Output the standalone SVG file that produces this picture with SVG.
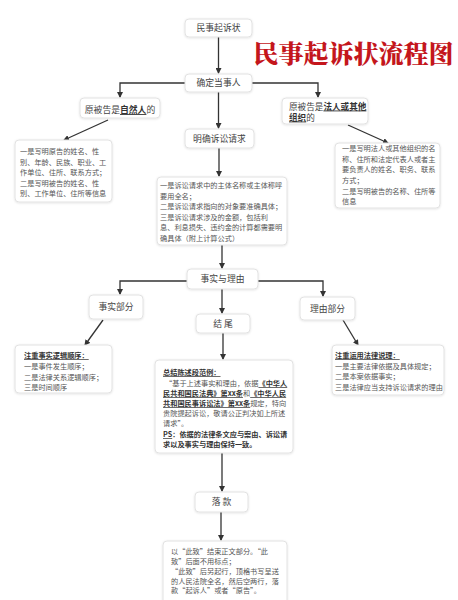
<svg xmlns="http://www.w3.org/2000/svg" width="458" height="600" viewBox="0 0 458 600">
<defs>
<filter id="sh" x="-10%" y="-10%" width="120%" height="130%">
<feDropShadow dx="0" dy="0.6" stdDeviation="0.8" flood-color="#000" flood-opacity="0.12"/>
</filter>
<marker id="ar" markerWidth="6" markerHeight="6" refX="5" refY="3" orient="auto" markerUnits="userSpaceOnUse">
<path d="M0,0 L6,3 L0,6 Z" fill="#333"/>
</marker>
</defs>
<style>
.box{fill:#fff;stroke:#e2e2e2;stroke-width:1;filter:url(#sh)}
.lbl{font-family:"Noto Sans CJK SC","Noto Sans",sans-serif;font-size:8.8px;fill:#444;text-anchor:middle}
.lbl2{font-family:"Noto Sans CJK SC","Noto Sans",sans-serif;font-size:8.6px;fill:#444}
.t{font-family:"Noto Sans CJK SC","Noto Sans",sans-serif;font-size:7.2px;fill:#555}
.b{font-weight:bold;fill:#333;text-decoration:underline}
.bo{font-weight:bold;fill:#333}
.c{fill:none;stroke:#333;stroke-width:1.3;marker-end:url(#ar)}
</style>
<rect width="458" height="600" fill="#fff"/>
<text x="353.5" y="63" font-family="'Noto Serif CJK SC','Noto Sans CJK SC',serif" font-size="25" font-weight="900" fill="#c4161c" text-anchor="middle">民事起诉状流程图</text>

<g id="connectors">
<path class="c" d="M218.5,37 V73"/>
<path class="c" d="M185,83 H120 V97"/>
<path class="c" d="M252,83 H318 V97"/>
<path class="c" d="M218.5,92 V128"/>
<path class="c" d="M108,120 L64,140"/>
<path class="c" d="M348,125 L388,143"/>
<path class="c" d="M219,148 V176"/>
<path class="c" d="M222,245 V268"/>
<path class="c" d="M187,281 H120 V294"/>
<path class="c" d="M258,281 H323 V296"/>
<path class="c" d="M222,289 V313"/>
<path class="c" d="M103,320 L85,345"/>
<path class="c" d="M343,320 L358,345"/>
<path class="c" d="M223,333 V359"/>
<path class="c" d="M222,453 V491"/>
<path class="c" d="M221,512 V540"/>
</g>

<g id="n1"><rect class="box" x="185" y="19" width="67" height="18" rx="4"/><text class="lbl" x="218.5" y="31">民事起诉状</text></g>
<g id="n2"><rect class="box" x="185" y="74" width="67" height="18" rx="4"/><text class="lbl" x="218.5" y="86">确定当事人</text></g>
<g id="n3"><rect class="box" x="80" y="98" width="80" height="20" rx="4"/><text class="lbl" x="120" y="113">原被告是<tspan class="b">自然人</tspan>的</text></g>
<g id="n4"><rect class="box" x="282" y="98" width="86" height="26" rx="4"/><text class="lbl2" x="289" y="109.5">原被告是<tspan class="b">法人或其他</tspan><tspan class="b" x="289" dy="11">组织</tspan>的</text></g>
<g id="n5"><rect class="box" x="185" y="129" width="69" height="19" rx="4"/><text class="lbl" x="219.5" y="141.5">明确诉讼请求</text></g>

<g id="n6"><rect class="box" x="15" y="140" width="97" height="62" rx="4"/>
<text class="t" x="20" y="154">一是写明原告的姓名、性</text>
<text class="t" x="20" y="164.5">别、年龄、民族、职业、工</text>
<text class="t" x="20" y="175">作单位、住所、联系方式；</text>
<text class="t" x="20" y="185.5">二是写明被告的姓名、性</text>
<text class="t" x="20" y="196">别、工作单位、住所等信息</text></g>

<g id="n7"><rect class="box" x="335" y="143" width="105" height="65" rx="4"/>
<text class="t" x="342" y="151">一是写明法人或其他组织的名</text>
<text class="t" x="342" y="161.5">称、住所和法定代表人或者主</text>
<text class="t" x="342" y="172">要负责人的姓名、职务、联系</text>
<text class="t" x="342" y="183">方式；</text>
<text class="t" x="342" y="194">二是写明被告的名称、住所等</text>
<text class="t" x="342" y="204">信息</text></g>

<g id="n8"><rect class="box" x="157" y="177" width="130" height="68" rx="4"/>
<text class="t" x="160" y="188">一是诉讼请求中的主体名称或主体称呼</text>
<text class="t" x="160" y="198.5">要用全名；</text>
<text class="t" x="160" y="209">二是诉讼请求指向的对象要准确具体；</text>
<text class="t" x="160" y="219.5">三是诉讼请求涉及的金额，包括利</text>
<text class="t" x="160" y="230">息、利息损失、违约金的计算都需要明</text>
<text class="t" x="160" y="240.5">确具体（附上计算公式）</text></g>

<g id="n9"><rect class="box" x="187" y="269" width="71" height="20" rx="4"/><text class="lbl" x="222.5" y="282">事实与理由</text></g>
<g id="n10"><rect class="box" x="89" y="295" width="54" height="24" rx="4"/><text class="lbl" x="116" y="310">事实部分</text></g>
<g id="n11"><rect class="box" x="300" y="297" width="55" height="23" rx="4"/><text class="lbl" x="327.5" y="311.5">理由部分</text></g>
<g id="n12"><rect class="box" x="196" y="314" width="54" height="19" rx="4"/><text class="lbl" x="223" y="326.5" xml:space="preserve">结 尾</text></g>

<g id="n13"><rect class="box" x="15" y="345" width="97" height="48" rx="4"/>
<text class="t" x="24" y="358"><tspan class="b">注重事实逻辑顺序：</tspan></text>
<text class="t" x="24" y="369">一是事件发生顺序；</text>
<text class="t" x="24" y="379.5">二是法律关系逻辑顺序；</text>
<text class="t" x="24" y="390">三是时间顺序</text></g>

<g id="n14"><rect class="box" x="332" y="345" width="112" height="50" rx="4"/>
<text class="t" x="335" y="358"><tspan class="b">注重运用法律说理：</tspan></text>
<text class="t" x="335" y="368.5">一是主要法律依据及具体规定；</text>
<text class="t" x="335" y="379">二是本案依据事实；</text>
<text class="t" x="335" y="390">三是法律应当支持诉讼请求的理由</text></g>

<g id="n15"><rect class="box" x="155" y="360" width="138" height="93" rx="4"/>
<text class="t" x="163" y="375"><tspan class="b">总结陈述段范例：</tspan></text>
<text class="t" x="165" y="386">“基于上述事实和理由，依据<tspan class="b">《中华人</tspan></text>
<text class="t" x="163" y="396"><tspan class="b">民共和国民法典》第xx条</tspan>和<tspan class="b">《中华人民</tspan></text>
<text class="t" x="163" y="406"><tspan class="b">共和国民事诉讼法》第xx条</tspan>规定，特向</text>
<text class="t" x="163" y="416">贵院提起诉讼，敬请公正判决如上所述</text>
<text class="t" x="163" y="426">请求”。</text>
<text class="t" x="163" y="437"><tspan class="b">PS</tspan><tspan class="bo">：依据的法律条文应与案由、诉讼请</tspan></text>
<text class="t" x="163" y="447"><tspan class="bo">求以及事实与理由保持一致。</tspan></text></g>

<g id="n16"><rect class="box" x="195" y="492" width="53" height="20" rx="4"/><text class="lbl" x="221.5" y="505" xml:space="preserve">落 款</text></g>

<g id="n17"><rect class="box" x="163" y="541" width="124" height="70" rx="4"/>
<text class="t" x="171" y="554">以“此致”结束正文部分。“此</text>
<text class="t" x="171" y="563.5">致”后面不用标点；</text>
<text class="t" x="171" y="573.5">“此致”后另起行，顶格书写呈送</text>
<text class="t" x="171" y="583.5">的人民法院全名，然后空两行，落</text>
<text class="t" x="171" y="593">款“起诉人”或者“原告”。</text></g>
</svg>
